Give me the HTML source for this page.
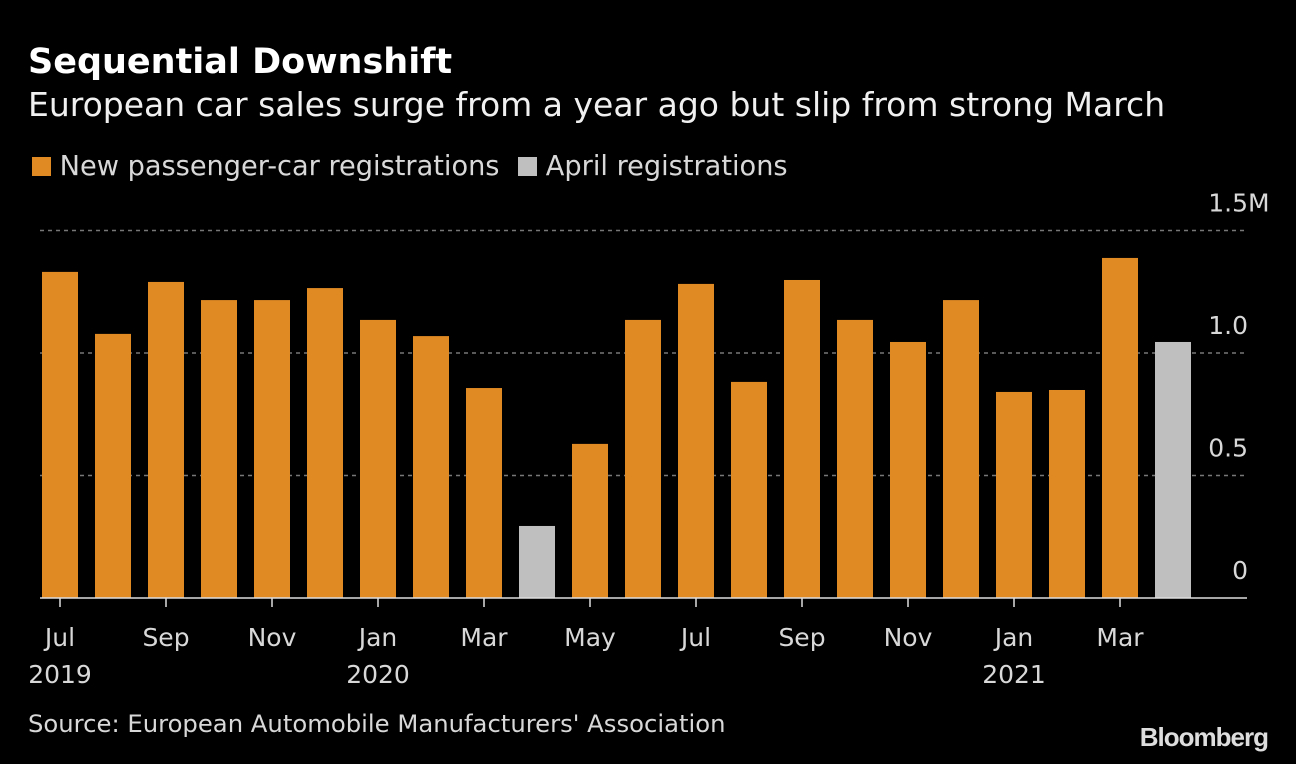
<!DOCTYPE html>
<html><head><meta charset="utf-8"><style>
body{margin:0;background:#000;width:1296px;height:764px;overflow:hidden;font-family:"DejaVu Sans",sans-serif;color:#e6e6e6}
.t{position:absolute;white-space:nowrap}
</style></head><body>
<div class="t" style="left:28px;top:42px;font-size:35px;font-weight:bold;color:#fff">Sequential Downshift</div>
<div class="t" style="left:28px;top:85px;font-size:33px;color:#f0f0f0">European car sales surge from a year ago but slip from strong March</div>
<div class="t" style="left:32px;top:151px;font-size:27.2px;color:#d8d8d8">
<span><span style="display:inline-block;width:19px;height:19px;background:#e08a24;vertical-align:-1px"></span> New passenger-car registrations</span>
<span style="margin-left:10px"><span style="display:inline-block;width:19px;height:19px;background:#bfbfbf;vertical-align:-1px"></span> April registrations</span></div>
<svg id="c" width="1296" height="764" style="position:absolute;left:0;top:0"></svg>
<div class="t" style="left:28px;top:709px;font-size:24.3px;color:#d8d8d8">Source: European Automobile Manufacturers' Association</div>
<div class="t" style="right:28px;top:722px;font-family:'Liberation Sans',sans-serif;font-size:26px;font-weight:bold;color:#ddd;letter-spacing:-1px">Bloomberg</div>
<script>
const months=["Jul","Aug","Sep","Oct","Nov","Dec","Jan","Feb","Mar","Apr","May","Jun","Jul","Aug","Sep","Oct","Nov","Dec","Jan","Feb","Mar","Apr"];
const years=["2019","","","","","","2020","","","","","","","","","","","","2021","","",""];
const values=[1.331,1.078,1.290,1.216,1.216,1.265,1.135,1.069,0.857,0.294,0.629,1.135,1.282,0.882,1.298,1.135,1.045,1.216,0.841,0.849,1.388,1.045];
const april=[false,false,false,false,false,false,false,false,false,true,false,false,false,false,false,false,false,false,false,false,false,true];
const yTicks=[0,0.5,1.0,1.5];
const yTickLabels=["0","0.5","1.0","1.5"];
const svg=document.getElementById('c');const NS="http://www.w3.org/2000/svg";
const y0=598,pxPer=245,x0=60,step=53,bw=36;
const y=v=>y0-v*pxPer, x=i=>x0+i*step;
function mk(t,a){const e=document.createElementNS(NS,t);for(const k in a)e.setAttribute(k,a[k]);svg.appendChild(e);return e;}
yTicks.forEach((v,i)=>{
 if(v>0){const g=mk('line',{x1:40,x2:1247,y1:y(v),y2:y(v),stroke:'#777','stroke-width':1.5,'stroke-dasharray':'4,4'});
 
 }
 const t=mk('text',{x:1248,y:y(v)-19,'text-anchor':'end','font-size':25,fill:'#d8d8d8','font-family':'DejaVu Sans'});
 t.textContent=yTickLabels[i];
 
 
 if(i===yTicks.length-1){const m=mk('text',{x:1248,y:y(v)-19,'font-size':25,fill:'#d8d8d8','font-family':'DejaVu Sans'});
  m.textContent='M';
  
  }
});
values.forEach((v,i)=>{
 const r=mk('rect',{x:x(i)-bw/2,y:y(v),width:bw,height:y0-y(v),fill:april[i]?'#bfbfbf':'#e08a24'});
 
 
 if(i%2==0){
  const tk=mk('line',{x1:x(i),x2:x(i),y1:y0,y2:y0+9,stroke:'#ddd','stroke-width':1.5});
  
  
  const t=mk('text',{x:x(i),y:646,'text-anchor':'middle','font-size':25,fill:'#d8d8d8','font-family':'DejaVu Sans'});
  t.textContent=months[i];
  
  
 }
 if(years[i]){const t=mk('text',{x:x(i),y:683,'text-anchor':'middle','font-size':25,fill:'#d8d8d8','font-family':'DejaVu Sans'});
  t.textContent=years[i];
  
  }
});
const b=mk('line',{x1:40,x2:1247,y1:y0,y2:y0,stroke:'#ddd','stroke-width':1.5});


</script>
</body></html>
